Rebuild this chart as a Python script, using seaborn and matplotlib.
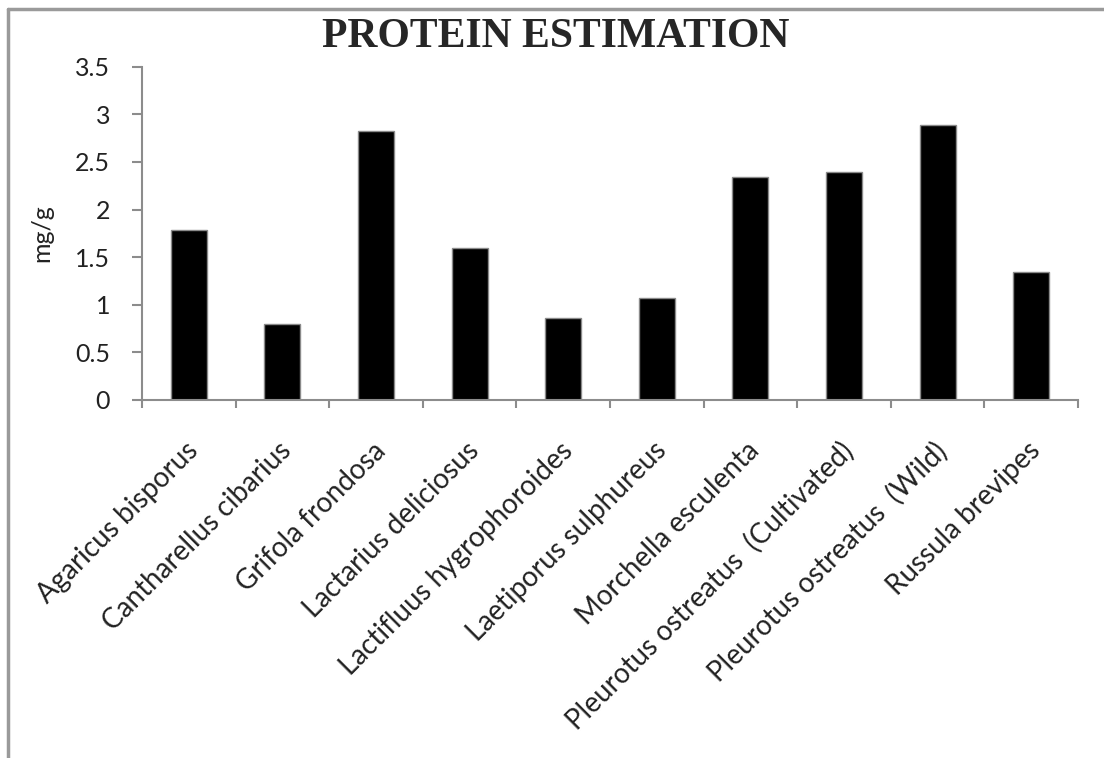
import matplotlib
matplotlib.use("Agg")
import matplotlib.pyplot as plt
from matplotlib.lines import Line2D
from matplotlib.ticker import FixedLocator
import matplotlib.transforms as mtransforms
import seaborn as sns
import pandas as pd
import numpy as np

# Protein content (mg/g) of edible mushroom species
species = [
    "Agaricus bisporus",
    "Cantharellus cibarius",
    "Grifola frondosa",
    "Lactarius deliciosus",
    "Lactifluus hygrophoroides",
    "Laetiporus sulphureus",
    "Morchella esculenta",
    "Pleurotus ostreatus  (Cultivated)",
    "Pleurotus ostreatus  (Wild)",
    "Russula brevipes",
]
protein_mg_g = [1.79, 0.80, 2.83, 1.60, 0.86, 1.07, 2.34, 2.39, 2.89, 1.34]
y_ticks = [0, 0.5, 1, 1.5, 2, 2.5, 3, 3.5]
y_tick_labels = ["0", "0.5", "1", "1.5", "2", "2.5", "3", "3.5"]

df = pd.DataFrame({"species": species, "protein": protein_mg_g})

sns.set_style("white")
plt.rcParams["font.family"] = ["Lato", "DejaVu Sans"]

fig = plt.figure(figsize=(11.04, 7.58), dpi=100)
ax = fig.add_axes([0.1286, 0.4723, 0.8478, 0.4397])

sns.barplot(data=df, x="species", y="protein", color="black", width=0.385,
            edgecolor="#8a8a8a", linewidth=1.0, saturation=1, ax=ax)

axis_grey = "#8c8c8c"
ax.set_xlim(-0.5, len(species) - 0.5)
ax.set_ylim(0, 3.5)
ax.set_yticks(y_ticks)
ax.set_yticklabels(y_tick_labels, fontsize=18, color="#222222")
ax.set_ylabel("mg/g", fontsize=18, labelpad=16, color="#222222")
ax.set_xlabel("")

for side in ("top", "right"):
    ax.spines[side].set_visible(False)
for side in ("left", "bottom"):
    ax.spines[side].set_color(axis_grey)
    ax.spines[side].set_linewidth(1.5)

# category boundaries carry the tick marks, centres carry the labels
ax.xaxis.set_minor_locator(FixedLocator(np.arange(-0.5, len(species), 1.0)))
ax.tick_params(axis="x", which="minor", bottom=True, length=6, width=1.5, color=axis_grey)
ax.tick_params(axis="x", which="major", bottom=True, length=0, pad=27)
ax.tick_params(axis="y", which="major", left=True, length=7, width=1.5,
               color=axis_grey, pad=16)
ax.set_xticks(range(len(species)))
ax.set_xticklabels(species, fontsize=20, rotation=45, color="#222222",
                   ha="right", va="top", rotation_mode="anchor")
shift = mtransforms.ScaledTranslation(-4 / 100, 0, fig.dpi_scale_trans)
for lbl in ax.get_xticklabels():
    lbl.set_transform(lbl.get_transform() + shift)

fig.text(0.503, 0.938, "PROTEIN ESTIMATION", fontsize=30, fontweight="bold",
         family="Liberation Serif", ha="center", va="baseline")

# outer chart frame (top and left edges)
frame_kw = dict(color="#9a9a9a", linewidth=2.5, transform=fig.transFigure)
fig.add_artist(Line2D([0.0075, 1.0], [0.988, 0.988], **frame_kw))
fig.add_artist(Line2D([0.0075, 0.0075], [0.0, 0.988], **frame_kw))

fig.savefig("out.png", dpi=100, facecolor="white")
